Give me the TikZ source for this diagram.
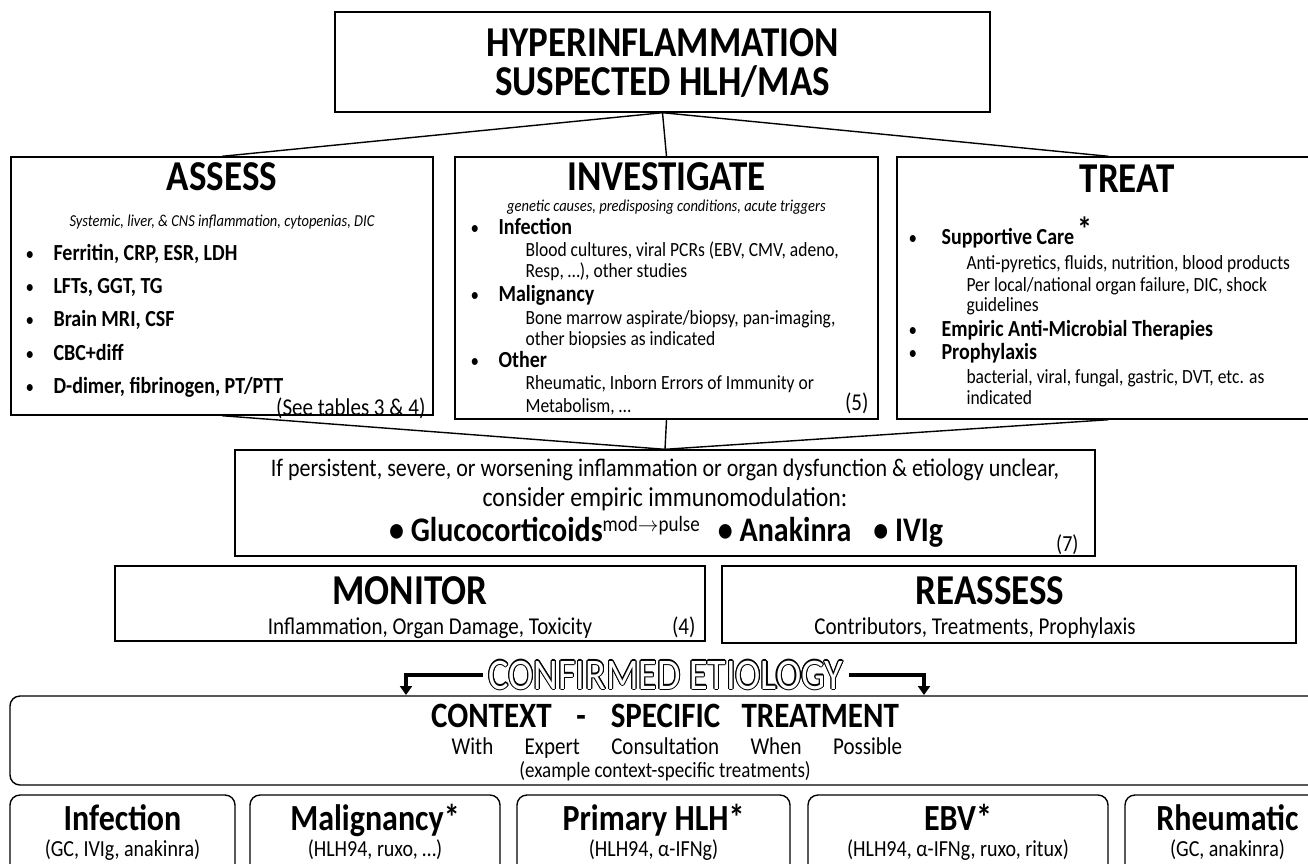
\documentclass[tikz,border=0pt]{standalone}
\usepackage{fontspec}
\setmainfont{Carlito}[FakeStretch=0.87]
\usetikzlibrary{arrows.meta}
\usetikzlibrary{positioning}

\newcommand{\fs}[1]{\fontsize{\fpeval{#1*1.15}}{\fpeval{#1*1.2}}\selectfont}

\begin{document}
\begin{tikzpicture}[x=1pt, y=-1pt,
		box/.style={draw, line width=1.4pt, inner sep=0pt},
		rbox/.style={box, rounded corners=10pt},
		link/.style={line width=1.4pt},
		bigtitle/.style={font=\fs{37}\bfseries, anchor=base},
		head/.style={font=\fs{20}\bfseries, anchor=base west},
		plain/.style={font=\fs{17.5}, anchor=base west},
		dot/.style={font=\fs{17}, anchor=base west},
		ref/.style={font=\fs{21}, anchor=base east},
		note/.style={font=\fs{14.5}\itshape, anchor=base},
		midtxt/.style={anchor=base, inner sep=1pt},
		etiotxt/.style={font=\fs{38}, inner sep=6pt},
		etioline/.style={line width=4pt, -{Triangle[width=12pt,length=9pt]}}]
	\useasboundingbox (0,0) rectangle (1308,863);

	\node[box, minimum width=655pt, minimum height=100pt] (top) at (662.5,62) {};
	\node[bigtitle] (top1) at (662.5,56) {HYPERINFLAMMATION};
	\node[bigtitle] (top2) at (662.5,95) {SUSPECTED HLH/MAS};

	\node[box, minimum width=422pt, minimum height=258pt] (assess) at (222,286) {};
	\node[box, minimum width=423pt, minimum height=262pt] (invest) at (666.5,288) {};
	\node[box, minimum width=423pt, minimum height=262pt] (treat) at (1108.5,288) {};
	\draw[link] (top.south) -- (assess.north);
	\draw[link] (top.south) -- (invest.north);
	\draw[link] (top.south) -- (treat.north);

	\node[bigtitle] (assesst) at (222,190) {ASSESS};
	\node[note] (assessn) at (222,226) {Systemic, liver, \& CNS inflammation, cytopenias, DIC};
	\foreach \txt [count=\i] in {{Ferritin, CRP, ESR, LDH}, {LFTs, GGT, TG}, {Brain MRI, CSF}, {CBC+diff}, {D-dimer, fibrinogen, PT/PTT}} {
		\node[dot] (adot\i) at (22,227+33.3*\i) {•};
		\node[head] (aitem\i) at (50,227+33.3*\i) {\txt};
	}
	\node[ref] (aref) at (429,415) {(See tables 3 \& 4)};

	\node[bigtitle] (investt) at (666.5,190) {INVESTIGATE};
	\node[note] (investn) at (666.5,211) {genetic causes, predisposing conditions, acute triggers};
	\node[dot] (idot1) at (467,234.5) {•};
	\node[head] (ihead1) at (495,234.5) {Infection};
	\node[plain] (isub1) at (522,256.5) {Blood cultures, viral PCRs (EBV, CMV, adeno,};
	\node[plain] (isub2) at (522,277.5) {Resp, …), other studies};
	\node[dot] (idot2) at (467,301.5) {•};
	\node[head] (ihead2) at (495,301.5) {Malignancy};
	\node[plain] (isub3) at (522,324.5) {Bone marrow aspirate/biopsy, pan-imaging,};
	\node[plain] (isub4) at (522,345) {other biopsies as indicated};
	\node[dot] (idot3) at (467,367.5) {•};
	\node[head] (ihead3) at (495,367.5) {Other};
	\node[plain] (isub5) at (522,389) {Rheumatic, Inborn Errors of Immunity or};
	\node[plain] (isub6) at (522,412) {Metabolism, …};
	\node[ref] (iref) at (872,410) {(5)};

	\node[bigtitle] (treatt) at (1127,192) {TREAT};
	\node[dot] (tdot1) at (905,244.5) {•};
	\node[head] (thead1) at (938,244.5) {Supportive Care};
	\node[font=\fs{30}\bfseries, anchor=base west, inner sep=0pt] (tstar) at (1077,241) {*};
	\node[plain] (tsub1) at (963,269) {Anti-pyretics, fluids, nutrition, blood products};
	\node[plain] (tsub2) at (963,291) {Per local/national organ failure, DIC, shock};
	\node[plain] (tsub3) at (963,311) {guidelines};
	\node[dot] (tdot2) at (905,336.5) {•};
	\node[head] (thead2) at (938,336.5) {Empiric Anti-Microbial Therapies};
	\node[dot] (tdot3) at (905,359.5) {•};
	\node[head] (thead3) at (938,359.5) {Prophylaxis};
	\node[plain] (tsub4) at (963,383) {bacterial, viral, fungal, gastric, DVT, etc. as};
	\node[plain] (tsub5) at (963,404) {indicated};

	\node[box, minimum width=860pt, minimum height=106pt] (mid) at (665,503) {};
	\draw[link] (assess.south) -- (mid.north);
	\draw[link] (invest.south) -- (mid.north);
	\draw[link] (treat.south) -- (mid.north);
	\node[midtxt, font=\fs{22}] (mid1) at (665,476) {If persistent, severe, or worsening inflammation or organ dysfunction \& etiology unclear,};
	\node[midtxt, font=\fs{23.8}] (mid2) at (665,506) {consider empiric immunomodulation:};
	\node[midtxt, font=\fs{30}\bfseries] (mid3) at (666,541) {• Glucocorticoids\raisebox{10pt}{\fs{19}\mdseries mod$\rightarrow$pulse}\hspace{18pt}• Anakinra\hspace{15pt} • IVIg};
	\node[font=\fs{20}, anchor=base east] (midref) at (1082,551) {(7)};

	\node[box, minimum width=590pt, minimum height=75pt] (monitor) at (410,603.5) {};
	\node[bigtitle] (monitort) at (410,604) {MONITOR};
	\node[font=\fs{21}, anchor=base] (monitors) at (430,634) {Inflammation, Organ Damage, Toxicity};
	\node[ref] (monref) at (699,634) {(4)};
	\node[box, minimum width=574pt, minimum height=77pt] (reassess) at (1009,604.5) {};
	\node[bigtitle] (reassesst) at (990,604) {REASSESS};
	\node[font=\fs{21}, anchor=base] (reassesss) at (975,634) {Contributors, Treatments, Prophylaxis};

	\foreach \a in {0,30,...,330}
		\node[etiotxt, shift={(\a:1.1pt)}] (etiocopy\a) at (666,675) {CONFIRMED ETIOLOGY};
	\node[etiotxt, text=white] (etio) at (666,675) {CONFIRMED ETIOLOGY};
	\coordinate (arrl) at (406,695);
	\coordinate (arrr) at (924,695);
	\draw[etioline] (etio.west) -| (arrl);
	\draw[etioline] (etio.east) -| (arrr);

	\node[rbox, minimum width=1310pt, minimum height=89pt] (ctx) at (665,740.5) {};
	\node[font=\fs{31}\bfseries, anchor=base] (ctxt) at (665,727) {CONTEXT\hspace{0.5em} -\hspace{0.5em} SPECIFIC\hspace{0.4em} TREATMENT};
	\node[font=\fs{21}, anchor=base] (ctxs) at (677,754) {With\hspace{1.3em}Expert\hspace{1.3em}Consultation\hspace{1.3em}When\hspace{1.3em}Possible};
	\node[font=\fs{19}, anchor=base] (ctxn) at (665,777) {(example context-specific treatments)};

	\foreach \nm/\cx/\w/\ttl/\txt in {inf/122.5/225/Infection/{(GC, IVIg, anakinra)}, mal/375/250/Malignancy*/{(HLH94, ruxo, …)}, prim/653.5/273/Primary HLH*/{(HLH94, α-IFNg)}, ebv/958/300/EBV*/{(HLH94, α-IFNg, ruxo, ritux)}, rheu/1227.5/205/Rheumatic/{(GC, anakinra)}} {
		\node[rbox, minimum width=\w pt, minimum height=90pt] (\nm) at (\cx,840) {};
		\node[font=\fs{32}\bfseries, anchor=base] (\nm t) at (\cx,830) {\ttl};
		\node[font=\fs{20}, anchor=base] (\nm s) at (\cx,856) {\txt};
	}
\end{tikzpicture}
\end{document}
